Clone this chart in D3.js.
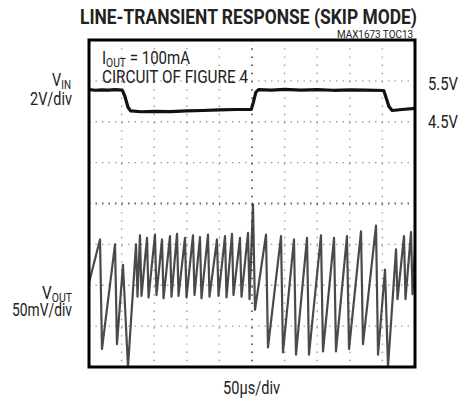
<!DOCTYPE html>
<html>
<head>
<meta charset="utf-8">
<script src="https://cdn.jsdelivr.net/npm/d3@7"></script>
<style>
  body { margin: 0; background: #fff; }
  text { font-family: "Liberation Sans Narrow", "Arial Narrow", "Roboto", sans-serif; fill: #222; }
</style>
</head>
<body>
<svg width="462" height="400"></svg>
<script>
// time in us (50us/div), VIN in volts, VOUT in mV (50mV/div, 0 = centre line)
var timeGrid = [50, 100, 150, 200, 250, 300, 350, 400, 450];
var divGrid = [1, 2, 3, 4, 5, 6, 7];

var vinTime = [0, 10, 20, 30, 40, 51, 55, 60, 64, 80, 100, 125, 150, 175, 200, 225, 249, 252, 256, 260, 280, 300, 325, 350, 375, 400, 425, 452, 455, 460, 465, 480, 500];
var vinVolts = [5.52, 5.49, 5.51, 5.5, 5.52, 5.5, 5.2, 4.65, 4.48, 4.44, 4.46, 4.45, 4.48, 4.5, 4.53, 4.55, 4.56, 4.9, 5.4, 5.52, 5.5, 5.53, 5.5, 5.52, 5.49, 5.51, 5.5, 5.48, 5.2, 4.7, 4.5, 4.55, 4.6];

var voutTime = [0, 16.9, 19.9, 39.9, 42.9, 52.1, 59.8, 72.1, 74.4,
  78.2, 80.5, 89.0, 91.3, 101.2, 103.5, 112.0, 114.3, 124.2, 126.5, 135.0, 137.3,
  147.2, 149.5, 159.5, 161.8, 170.2, 172.5, 182.5, 184.8, 196.3, 198.6, 208.6, 210.9,
  219.3, 221.6, 231.6, 233.9, 243.9, 246.2,
  251.5, 254.6, 271.5, 274.5, 294.5, 297.5, 314.4, 317.5, 334.4, 337.4, 355.8, 358.9,
  375.8, 378.8, 395.7, 398.8, 417.2, 420.2, 440.2, 443.3, 454, 458.6, 470.9, 473.2,
  483.1, 485.4, 493.9, 496.2, 500];
var voutMv = [-97, -44, -178, -50, -172, -75, -200, -50, -114,
  -39, -113, -42, -115, -38, -112, -44, -116, -40, -114, -37, -113,
  -42, -115, -39, -112, -41, -116, -38, -114, -44, -113, -40, -115,
  -37, -112, -42, -114, -36, -117,
  -1, -130, -38, -176, -40, -182, -44, -185, -42, -185, -39, -181,
  -42, -181, -40, -178, -34, -172, -27, -185, -81, -200, -56, -117,
  -40, -117, -35, -111, -56];

var svg = d3.select("svg");
var frame = {left: 89, top: 40, right: 415, bottom: 367};

var x = d3.scaleLinear().domain([0, 500]).range([frame.left, frame.right]);
var yDiv = d3.scaleLinear().domain([0, 8]).range([frame.top, frame.bottom]);
var yVin = d3.scaleLinear().domain([7.95, -8.05]).range([frame.top, frame.bottom]);
var yOut = d3.scaleLinear().domain([200, -200]).range([frame.top, frame.bottom]).clamp(true);

// grid
var grid = svg.append("g");
grid.selectAll(".vg").data(timeGrid).enter().append("line")
  .attr("x1", function(d){ return x(d); }).attr("x2", function(d){ return x(d); })
  .attr("y1", frame.top).attr("y2", frame.bottom)
  .attr("stroke", function(d){ return d == 250 ? "#666" : "#999"; })
  .attr("stroke-width", function(d){ return d == 250 ? 2 : 1.4; })
  .attr("stroke-dasharray", function(d){ return d == 250 ? "1.5,6.7" : "1.4,6.8"; });
grid.selectAll(".hg").data(divGrid).enter().append("line")
  .attr("x1", frame.left).attr("x2", frame.right)
  .attr("y1", function(d){ return yDiv(d); }).attr("y2", function(d){ return yDiv(d); })
  .attr("stroke", function(d){ return d == 4 ? "#666" : "#999"; })
  .attr("stroke-width", function(d){ return d == 4 ? 2 : 1.4; })
  .attr("stroke-dasharray", function(d){ return d == 4 ? "1.5,5" : "1.4,5.1"; });

// VIN trace
var vinLine = d3.line()
  .x(function(d, i){ return x(vinTime[i]); })
  .y(function(d){ return yVin(d); });
svg.append("path")
  .attr("d", vinLine(vinVolts))
  .attr("fill", "none")
  .attr("stroke", "#111")
  .attr("stroke-width", 3.2)
  .attr("stroke-linejoin", "round");

// VOUT trace
var outLine = d3.line()
  .x(function(d, i){ return x(voutTime[i]); })
  .y(function(d){ return yOut(d); });
svg.append("path")
  .attr("d", outLine(voutMv))
  .attr("fill", "none")
  .attr("stroke", "#2a2a2a")
  .attr("stroke-width", 2.2)
  .attr("stroke-opacity", 0.85)
  .attr("stroke-linejoin", "round");

// frame
svg.append("rect")
  .attr("x", frame.left).attr("y", frame.top)
  .attr("width", frame.right - frame.left).attr("height", frame.bottom - frame.top)
  .attr("fill", "none").attr("stroke", "#000").attr("stroke-width", 3);

// text
function label(xp, yp, size, len, anchor){
  return svg.append("text").attr("x", xp).attr("y", yp)
    .attr("font-size", size).attr("text-anchor", anchor || "start")
    .attr("textLength", len).attr("lengthAdjust", "spacingAndGlyphs");
}
label(80, 24, 20, 337).attr("font-weight", "bold")
  .text("LINE-TRANSIENT RESPONSE (SKIP MODE)");
label(337, 37.5, 10, 76).text("MAX1673 TOC13");

var iout = label(102, 64, 17.5, 88);
iout.append("tspan").text("I");
iout.append("tspan").attr("font-size", 12).attr("dy", 3).text("OUT");
iout.append("tspan").attr("dy", -3).text(" = 100mA");
label(102, 83, 17.5, 146).text("CIRCUIT OF FIGURE 4");

var vin = label(52, 86, 17.5, 19);
vin.append("tspan").text("V");
vin.append("tspan").attr("font-size", 12).attr("dy", 2.5).text("IN");
label(30, 105, 17.5, 42).text("2V/div");

label(428, 90, 17.5, 30).text("5.5V");
label(428, 128, 17.5, 30).text("4.5V");

var vout = label(42, 299, 17.5, 30);
vout.append("tspan").text("V");
vout.append("tspan").attr("font-size", 12).attr("dy", 2.5).text("OUT");
label(12, 316, 17.5, 60).text("50mV/div");

label(223, 394, 17.5, 57).text("50\u00b5s/div");
</script>
</body>
</html>
